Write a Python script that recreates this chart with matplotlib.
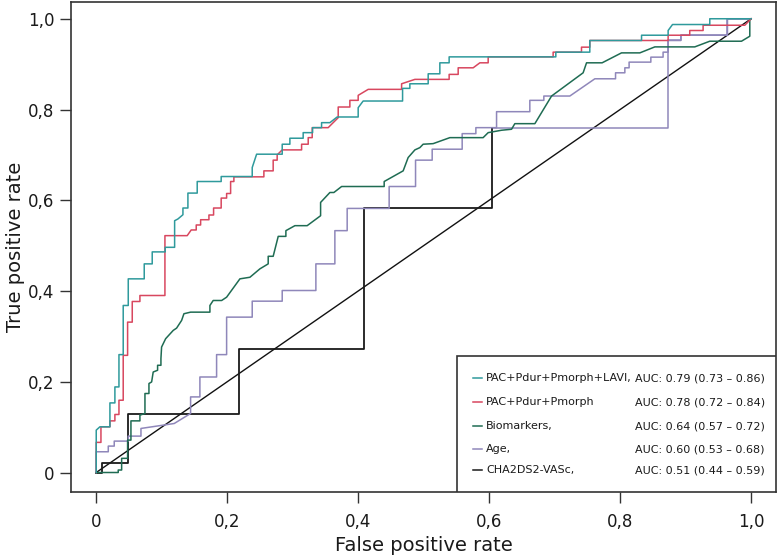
import matplotlib
matplotlib.use("Agg")
import matplotlib.pyplot as plt
from matplotlib.patches import Rectangle

plt.rcParams['font.family'] = ['DejaVu Sans']

# ROC curves (false positive rate, true positive rate)
lavi_fpr = [0, 0, 0.0056, 0.0209, 0.0209, 0.0285, 0.0285, 0.0347, 0.0347, 0.0412, 0.0412, 0.0489, 0.0489,
            0.0733, 0.0733, 0.0855, 0.0855, 0.1053, 0.1053, 0.1197, 0.1197, 0.1247, 0.1324, 0.1324, 0.14, 0.14,
            0.1542, 0.1542, 0.1908, 0.1908, 0.2382, 0.2382, 0.2449, 0.284, 0.284, 0.2957, 0.2957, 0.316, 0.316,
            0.3304, 0.3304, 0.3441, 0.3441, 0.3568, 0.3679, 0.4, 0.4, 0.4076, 0.4678, 0.4678, 0.4789, 0.4789,
            0.5069, 0.5069, 0.5247, 0.5247, 0.5389, 0.5389, 0.7018, 0.7018, 0.7537, 0.7537, 0.8327, 0.8327,
            0.8733, 0.8733, 0.88, 0.9369, 0.9369, 1.0]
lavi_tpr = [0, 0.0934, 0.1007, 0.1007, 0.1534, 0.1534, 0.1886, 0.1886, 0.2598, 0.2598, 0.3681, 0.3681, 0.4268,
            0.4268, 0.4598, 0.4598, 0.4862, 0.4862, 0.4963, 0.4963, 0.5549, 0.5587, 0.5681, 0.5829, 0.5829, 0.6158,
            0.6158, 0.6413, 0.6413, 0.6523, 0.6523, 0.6721, 0.7015, 0.7015, 0.7235, 0.7235, 0.7367, 0.7367, 0.749,
            0.749, 0.76, 0.76, 0.771, 0.771, 0.7835, 0.7835, 0.804, 0.8187, 0.8187, 0.8466, 0.8466, 0.8567,
            0.8567, 0.8787, 0.8787, 0.9029, 0.9029, 0.916, 0.916, 0.9264, 0.9264, 0.9521, 0.9521, 0.9637,
            0.9637, 0.9741, 0.9873, 0.9873, 1.0, 1.0]

pmorph_fpr = [0, 0, 0.0072, 0.0072, 0.0209, 0.0209, 0.0285, 0.0285, 0.0347, 0.0347, 0.0412, 0.0412, 0.0479,
              0.0479, 0.055, 0.055, 0.0667, 0.0667, 0.1049, 0.1049, 0.1389, 0.145, 0.1527, 0.1527, 0.1594,
              0.1594, 0.1721, 0.1721, 0.1792, 0.1792, 0.1908, 0.1908, 0.1991, 0.1991, 0.2052, 0.2052, 0.2102,
              0.2102, 0.256, 0.256, 0.2702, 0.2702, 0.2763, 0.2763, 0.284, 0.3136, 0.3136, 0.3237, 0.3237,
              0.3298, 0.3298, 0.3542, 0.3618, 0.3695, 0.3695, 0.3873, 0.3873, 0.4, 0.4, 0.4153, 0.4663, 0.4663,
              0.4866, 0.5389, 0.5389, 0.5527, 0.5527, 0.5756, 0.5858, 0.5985, 0.5985, 0.6977, 0.6977, 0.741,
              0.741, 0.7537, 0.7537, 0.8733, 0.8733, 0.9063, 0.9063, 0.9267, 0.9267, 0.9904, 1.0]
pmorph_tpr = [0, 0.0664, 0.0664, 0.1007, 0.1007, 0.1138, 0.1138, 0.1279, 0.1279, 0.1593, 0.1593, 0.2582, 0.2582,
              0.3314, 0.3314, 0.3769, 0.3769, 0.3901, 0.3901, 0.522, 0.522, 0.5345, 0.5345, 0.5455, 0.5455,
              0.5571, 0.5571, 0.5675, 0.5675, 0.5829, 0.5829, 0.6048, 0.6048, 0.6149, 0.6149, 0.6413, 0.6413,
              0.6516, 0.6516, 0.6648, 0.6648, 0.6884, 0.6884, 0.7, 0.711, 0.711, 0.7235, 0.7235, 0.738, 0.738,
              0.76, 0.76, 0.771, 0.782, 0.8055, 0.8055, 0.8202, 0.8202, 0.8312, 0.8444, 0.8444, 0.8567, 0.8664,
              0.8664, 0.8774, 0.8774, 0.8919, 0.8919, 0.9029, 0.9029, 0.916, 0.916, 0.9264, 0.9264, 0.9374,
              0.9374, 0.9521, 0.9521, 0.9637, 0.9637, 0.9741, 0.9741, 0.9857, 0.9857, 1.0]

bio_fpr = [0, 0.0336, 0.0336, 0.0388, 0.0388, 0.0479, 0.0479, 0.053, 0.053, 0.0667, 0.0667, 0.0744, 0.0744,
           0.0805, 0.0805, 0.0846, 0.087, 0.0937, 0.0937, 0.0988, 0.0988, 0.0998, 0.106, 0.1176, 0.1227, 0.1304,
           0.1339, 0.1441, 0.1736, 0.1736, 0.1786, 0.1915, 0.1991, 0.2194, 0.2347, 0.2499, 0.2626, 0.2626,
           0.2702, 0.2779, 0.2896, 0.2896, 0.3034, 0.3221, 0.3426, 0.3426, 0.3568, 0.3629, 0.3747, 0.4397,
           0.4397, 0.4687, 0.4763, 0.4866, 0.4942, 0.4992, 0.5145, 0.54, 0.5908, 0.5985, 0.6189, 0.6342,
           0.6392, 0.6698, 0.6953, 0.7435, 0.7487, 0.7725, 0.8021, 0.8301, 0.853, 0.914, 0.9369, 0.9853,
           0.998, 0.998, 1.0]
bio_tpr = [0, 0, 0.0055, 0.0055, 0.0312, 0.0312, 0.0714, 0.0714, 0.1138, 0.1138, 0.1264, 0.1301, 0.1741,
           0.1741, 0.1961, 0.1996, 0.2215, 0.2253, 0.2363, 0.2363, 0.251, 0.2765, 0.2949, 0.3132, 0.3182,
           0.3352, 0.3499, 0.3534, 0.3534, 0.3681, 0.3791, 0.3791, 0.3864, 0.4268, 0.4303, 0.4488, 0.4598,
           0.4765, 0.4765, 0.5204, 0.5204, 0.533, 0.544, 0.544, 0.5659, 0.5952, 0.6171, 0.6171, 0.6303, 0.6303,
           0.6413, 0.6648, 0.6941, 0.711, 0.716, 0.7235, 0.7248, 0.738, 0.738, 0.749, 0.7543, 0.7565, 0.7688,
           0.7688, 0.8297, 0.8809, 0.9029, 0.9029, 0.9248, 0.9248, 0.938, 0.938, 0.9505, 0.9505, 0.9615, 1.0, 1.0]

age_fpr = [0, 0, 0.0184, 0.0184, 0.0275, 0.0275, 0.0489, 0.0489, 0.0683, 0.0683, 0.1191, 0.1441, 0.1441,
           0.1583, 0.1583, 0.1838, 0.1838, 0.1991, 0.1991, 0.2382, 0.2382, 0.284, 0.284, 0.3354, 0.3354, 0.3644,
           0.3644, 0.3832, 0.3832, 0.4473, 0.4473, 0.4876, 0.4876, 0.513, 0.513, 0.5588, 0.5588, 0.5797, 0.5797,
           0.6113, 0.6113, 0.6621, 0.6621, 0.6835, 0.6835, 0.7232, 0.7614, 0.793, 0.793, 0.8072, 0.8072, 0.8137,
           0.8137, 0.8469, 0.8469, 0.8656, 0.8656, 0.8733, 0.8733, 0.8927, 0.8927, 0.9639, 0.9639, 1.0]
age_tpr = [0, 0.0457, 0.0457, 0.0582, 0.0582, 0.0692, 0.0692, 0.0802, 0.0802, 0.0971, 0.108, 0.1301, 0.1666,
           0.1666, 0.2105, 0.2105, 0.2598, 0.2598, 0.3424, 0.3424, 0.3776, 0.3776, 0.4011, 0.4011, 0.4598, 0.4598,
           0.533, 0.533, 0.582, 0.582, 0.6303, 0.6303, 0.6884, 0.6884, 0.7125, 0.7125, 0.7468, 0.7468, 0.76, 0.76,
           0.7952, 0.7952, 0.8202, 0.8202, 0.8297, 0.8297, 0.8677, 0.8677, 0.8809, 0.8809, 0.8919, 0.8919,
           0.9044, 0.9044, 0.9154, 0.9154, 0.9264, 0.9264, 0.9521, 0.9521, 0.9637, 0.9637, 1.0, 1.0]

cha_fpr = [0, 0.0082, 0.0082, 0.0489, 0.0489, 0.2179, 0.2179, 0.4087, 0.4087, 0.6046, 0.6046,
           0.8733, 0.8733, 0.8733, 0.8927, 0.8927, 0.9639, 0.9639, 1.0]
cha_tpr = [0, 0, 0.0202, 0.0202, 0.1279, 0.1279, 0.2721, 0.2721, 0.582, 0.582, 0.7587,
           0.7587, 0.9264, 0.9521, 0.9521, 0.9637, 0.9637, 1.0, 1.0]
cha_black_pts = 11  # first points drawn black, the rest shows up in the Age colour

names = ["PAC+Pdur+Pmorph+LAVI,", "PAC+Pdur+Pmorph", "Biomarkers,", "Age,", "CHA2DS2-VASc,"]
aucs = ["AUC: 0.79 (0.73 \u2013 0.86)", "AUC: 0.78 (0.72 \u2013 0.84)", "AUC: 0.64 (0.57 \u2013 0.72)",
        "AUC: 0.60 (0.53 \u2013 0.68)", "AUC: 0.51 (0.44 \u2013 0.59)"]
colors = ["#2f9a9c", "#d8475f", "#1f6c53", "#8f87ba", "#1a1a1a"]

ticks = [0, 0.2, 0.4, 0.6, 0.8, 1.0]
tick_labels = ["0", "0,2", "0,4", "0,6", "0,8", "1,0"]

fig = plt.figure(figsize=(7.77, 5.6), dpi=100)
ax = fig.add_axes([0.0914, 0.1214, 0.9073, 0.8759])

# chance line
ax.plot([0, 1], [0, 1], color="#111111", lw=1.0)

ax.plot(cha_fpr[cha_black_pts - 1:], cha_tpr[cha_black_pts - 1:], color=colors[3], lw=1.1)
ax.plot(cha_fpr[:cha_black_pts], cha_tpr[:cha_black_pts], color=colors[4], lw=1.3)
ax.plot(age_fpr, age_tpr, color=colors[3], lw=1.1)
ax.plot(bio_fpr, bio_tpr, color=colors[2], lw=1.1)
ax.plot(pmorph_fpr, pmorph_tpr, color=colors[1], lw=1.1)
ax.plot(lavi_fpr, lavi_tpr, color=colors[0], lw=1.1)

ax.set_xlim(-0.0385, 1.038)
ax.set_ylim(-0.043, 1.038)
ax.set_xticks(ticks)
ax.set_xticklabels(tick_labels)
ax.set_yticks(ticks)
ax.set_yticklabels(tick_labels)
ax.tick_params(direction="out", length=8, width=1.0, color="#333333", labelsize=12, labelcolor="#1a1a1a")
ax.tick_params(axis="x", pad=7)
ax.tick_params(axis="y", pad=4)
for s in ax.spines.values():
    s.set_color("#333333")
    s.set_linewidth(1.2)

ax.set_xlabel("False positive rate", fontsize=14, labelpad=4, color="#1a1a1a")
ax.set_ylabel("True positive rate", fontsize=14, labelpad=2, color="#1a1a1a")

# legend box in the lower right corner
ax.add_patch(Rectangle((0.5475, 0), 0.4525, 0.277, transform=ax.transAxes, facecolor="white",
                       edgecolor="#333333", lw=1.2, zorder=5))
row_y = [0.2322, 0.1833, 0.1344, 0.0876, 0.0448]
for i in range(len(names)):
    ax.plot([0.5702, 0.583], [row_y[i], row_y[i]], transform=ax.transAxes, color=colors[i], lw=1.1, zorder=6)
    ax.text(0.5887, row_y[i], names[i], transform=ax.transAxes, fontsize=8, va="center", ha="left",
            color="#1a1a1a", zorder=6)
    ax.text(0.8, row_y[i], aucs[i], transform=ax.transAxes, fontsize=8, va="center", ha="left",
            color="#1a1a1a", zorder=6)

fig.savefig("out.png", dpi=100)
